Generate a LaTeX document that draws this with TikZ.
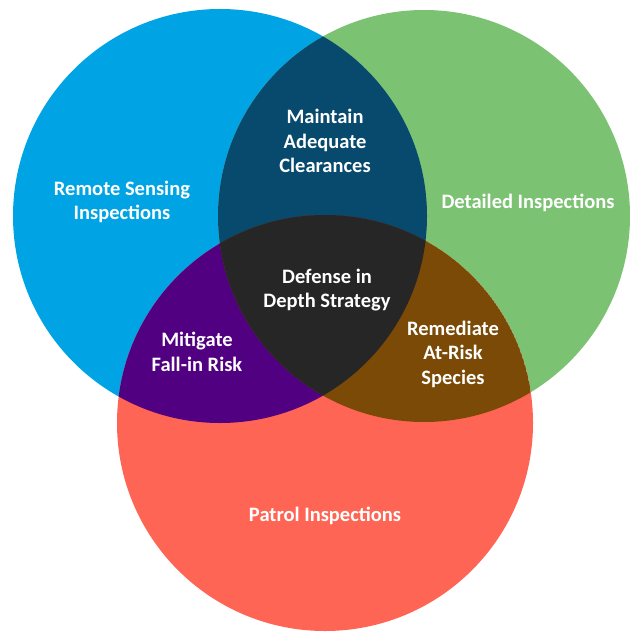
\documentclass[tikz,border=0pt]{standalone}
\usepackage{fontspec}
\setmainfont{Carlito}
\definecolor{cblue}{RGB}{0,164,228}
\definecolor{cgreen}{RGB}{124,194,115}
\definecolor{cred}{RGB}{255,101,85}
\definecolor{cbg}{RGB}{8,74,110}
\definecolor{cbr}{RGB}{80,0,128}
\definecolor{cgr}{RGB}{122,74,6}
\definecolor{call}{RGB}{38,38,38}
\begin{document}
\begin{tikzpicture}[x=1bp,y=-1bp,
  lbl/.style={text=white, font=\bfseries\fontsize{20.5bp}{24.5bp}\selectfont, align=center, inner sep=0pt}]
\useasboundingbox (0,0) rectangle (630,633);
\def\circB{(220,216) circle[radius=207bp]}
\def\circG{(424,216) circle[radius=206bp]}
\def\circR{(325,423) circle[radius=208bp]}
\fill[cblue] \circB;
\fill[cgreen] \circG;
\fill[cred] \circR;
\begin{scope}
  \clip \circB;
  \fill[cbg] \circG;
  \fill[cbr] \circR;
  \clip \circG;
  \fill[call] \circR;
\end{scope}
\begin{scope}
  \clip \circG;
  \clip \circR;
  \fill[cgr] \circR;
  \clip \circB;
  \fill[call] \circR;
\end{scope}
\node[lbl] (rs) at (122,202) {Remote Sensing\\Inspections};
\node[lbl] (di) at (528,203) {Detailed Inspections};
\node[lbl] (pi) at (325,516) {Patrol Inspections};
\node[lbl] (mc) at (325,141) {Maintain\\Adequate\\Clearances};
\node[lbl] (dd) at (327,290) {Defense in\\Depth Strategy};
\node[lbl] (mf) at (197,352) {Mitigate\\Fall-in Risk};
\node[lbl] (ra) at (453,354) {Remediate\\At-Risk\\Species};
\end{tikzpicture}
\end{document}
